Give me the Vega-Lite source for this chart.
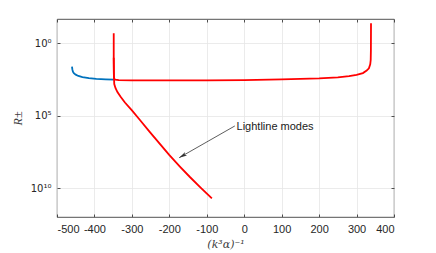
{
  "$schema": "https://vega.github.io/schema/vega-lite/v6.json",
  "width": 337,
  "height": 198,
  "autosize": {"type": "none"},
  "padding": {"left": 57, "top": 19, "right": 42, "bottom": 36},
  "config": {
    "view": {"stroke": "#262626", "strokeWidth": 0.8},
    "axis": {
      "labelFont": "Liberation Sans",
      "labelFontSize": 11,
      "labelColor": "#262626",
      "tickColor": "#262626",
      "tickWidth": 0.8,
      "domain": false,
      "gridColor": "#e6e6e6",
      "gridWidth": 0.8,
      "titleFont": "Liberation Serif",
      "titleFontStyle": "italic",
      "titleFontWeight": "normal",
      "titleFontSize": 12,
      "titleColor": "#404040"
    }
  },
  "datasets": {
    "curves": [
      {"s": "b", "i": 0, "x": -460, "r": 39.8},
      {"s": "b", "i": 1, "x": -459, "r": 63.1},
      {"s": "b", "i": 2, "x": -457.5, "r": 89.1},
      {"s": "b", "i": 3, "x": -455, "r": 115},
      {"s": "b", "i": 4, "x": -450, "r": 145},
      {"s": "b", "i": 5, "x": -443, "r": 178},
      {"s": "b", "i": 6, "x": -432, "r": 214},
      {"s": "b", "i": 7, "x": -415, "r": 251},
      {"s": "b", "i": 8, "x": -395, "r": 282},
      {"s": "b", "i": 9, "x": -370, "r": 306},
      {"s": "b", "i": 10, "x": -348, "r": 320},
      {"s": "r1", "i": 0, "x": -348.5, "r": 0.204},
      {"s": "r1", "i": 1, "x": -348.5, "r": 10},
      {"s": "r1", "i": 2, "x": -348.3, "r": 100},
      {"s": "r1", "i": 3, "x": -348, "r": 200},
      {"s": "r1", "i": 4, "x": -347, "r": 282},
      {"s": "r1", "i": 5, "x": -344, "r": 324},
      {"s": "r1", "i": 6, "x": -335, "r": 347},
      {"s": "r1", "i": 7, "x": -300, "r": 359},
      {"s": "r1", "i": 8, "x": -200, "r": 363},
      {"s": "r1", "i": 9, "x": -100, "r": 355},
      {"s": "r1", "i": 10, "x": 0, "r": 339},
      {"s": "r1", "i": 11, "x": 100, "r": 302},
      {"s": "r1", "i": 12, "x": 150, "r": 282},
      {"s": "r1", "i": 13, "x": 200, "r": 257},
      {"s": "r1", "i": 14, "x": 250, "r": 219},
      {"s": "r1", "i": 15, "x": 280, "r": 182},
      {"s": "r1", "i": 16, "x": 300, "r": 148},
      {"s": "r1", "i": 17, "x": 317, "r": 112},
      {"s": "r1", "i": 18, "x": 327, "r": 75.9},
      {"s": "r1", "i": 19, "x": 333, "r": 52.5},
      {"s": "r1", "i": 20, "x": 336.5, "r": 28.2},
      {"s": "r1", "i": 21, "x": 337.8, "r": 14.1},
      {"s": "r1", "i": 22, "x": 338.3, "r": 3.16},
      {"s": "r1", "i": 23, "x": 338.6, "r": 0.0417},
      {"s": "r2", "i": 0, "x": -348.5, "r": 10},
      {"s": "r2", "i": 1, "x": -347.9, "r": 200},
      {"s": "r2", "i": 2, "x": -347.1, "r": 646},
      {"s": "r2", "i": 3, "x": -343.9, "r": 1202},
      {"s": "r2", "i": 4, "x": -338.6, "r": 2291},
      {"s": "r2", "i": 5, "x": -330.6, "r": 4677},
      {"s": "r2", "i": 6, "x": -318.6, "r": 12000},
      {"s": "r2", "i": 7, "x": -299.9, "r": 42700},
      {"s": "r2", "i": 8, "x": -278.5, "r": 195000},
      {"s": "r2", "i": 9, "x": -251.9, "r": 1320000},
      {"s": "r2", "i": 10, "x": -200.4, "r": 50000000},
      {"s": "r2", "i": 11, "x": -171.8, "r": 316000000},
      {"s": "r2", "i": 12, "x": -145.1, "r": 1660000000},
      {"s": "r2", "i": 13, "x": -115.8, "r": 9300000000},
      {"s": "r2", "i": 14, "x": -86.4, "r": 50000000000}
    ],
    "arrow": [
      {"x": -25.1, "r": 500000, "x2": -173.7, "r2": 77600000}
    ],
    "label": [
      {"x": -20.5, "r": 560000, "t": "Lightline modes"}
    ]
  },
  "layer": [
    {
      "data": {"name": "curves"},
      "mark": {"type": "line", "strokeWidth": 1.8, "clip": true},
      "encoding": {
        "x": {
          "field": "x", "type": "quantitative",
          "scale": {"domain": [-500, 400], "nice": false, "zero": false},
          "axis": {
            "orient": "bottom",
            "values": [-500, -400, -300, -200, -100, 0, 100, 200, 300, 400],
            "labelExpr": "'' + datum.value",
            "grid": true,
            "tickSize": -3,
            "labelPadding": 9,
            "title": "(k³α)⁻¹",
            "titleFont": "DejaVu Serif",
            "titleFontSize": 11,
            "titlePadding": 4
          }
        },
        "y": {
          "field": "r", "type": "quantitative",
          "scale": {"type": "log", "domain": [0.0209, 955000000000], "reverse": true, "nice": false},
          "axis": {
            "orient": "left",
            "values": [1, 100000, 10000000000],
            "labelExpr": "datum.value == 1 ? '10⁰' : (datum.value == 100000 ? '10⁵' : '10¹⁰')",
            "labelFont": "DejaVu Sans",
            "labelFontSize": 10,
            "grid": true,
            "tickSize": -3,
            "labelPadding": 9,
            "title": "R±",
            "titlePadding": 6
          }
        },
        "color": {
          "field": "s", "type": "nominal",
          "scale": {"domain": ["b", "r1", "r2"], "range": ["#0072BD", "#FF0000", "#FF0000"]},
          "legend": null
        },
        "order": {"field": "i", "type": "quantitative"}
      }
    },
    {
      "data": {"name": "arrow"},
      "mark": {"type": "rule", "color": "#333333", "strokeWidth": 0.8},
      "encoding": {
        "x": {"field": "x", "type": "quantitative", "scale": {"domain": [-500, 400], "nice": false, "zero": false}, "axis": null},
        "y": {"field": "r", "type": "quantitative", "scale": {"type": "log", "domain": [0.0209, 955000000000], "reverse": true, "nice": false}, "axis": null},
        "x2": {"field": "x2"},
        "y2": {"field": "r2"}
      }
    },
    {
      "data": {"name": "arrow"},
      "mark": {"type": "point", "filled": true, "color": "#333333", "opacity": 1, "size": 100, "angle": 240, "shape": "M0,0L0.4,1.6L0,1.2L-0.4,1.6Z"},
      "encoding": {
        "x": {"field": "x2", "type": "quantitative", "scale": {"domain": [-500, 400], "nice": false, "zero": false}, "axis": null},
        "y": {"field": "r2", "type": "quantitative", "scale": {"type": "log", "domain": [0.0209, 955000000000], "reverse": true, "nice": false}, "axis": null}
      }
    },
    {
      "data": {"name": "label"},
      "mark": {"type": "text", "align": "left", "baseline": "middle", "font": "Liberation Sans", "fontSize": 11, "color": "#1a1a1a"},
      "encoding": {
        "x": {"field": "x", "type": "quantitative", "scale": {"domain": [-500, 400], "nice": false, "zero": false}, "axis": null},
        "y": {"field": "r", "type": "quantitative", "scale": {"type": "log", "domain": [0.0209, 955000000000], "reverse": true, "nice": false}, "axis": null},
        "text": {"field": "t"}
      }
    },
    {
      "data": {"name": "label"},
      "mark": {"type": "point", "opacity": 0},
      "encoding": {
        "x": {
          "field": "x", "type": "quantitative",
          "scale": {"domain": [-500, 400], "nice": false, "zero": false},
          "axis": {"orient": "top", "values": [-500, -400, -300, -200, -100, 0, 100, 200, 300, 400], "labels": false, "grid": false, "tickSize": -3, "title": null}
        },
        "y": {
          "field": "r", "type": "quantitative",
          "scale": {"type": "log", "domain": [0.0209, 955000000000], "reverse": true, "nice": false},
          "axis": {"orient": "right", "values": [1, 100000, 10000000000], "labels": false, "grid": false, "tickSize": -3, "title": null}
        }
      }
    }
  ],
  "resolve": {"axis": {"x": "independent", "y": "independent"}}
}
